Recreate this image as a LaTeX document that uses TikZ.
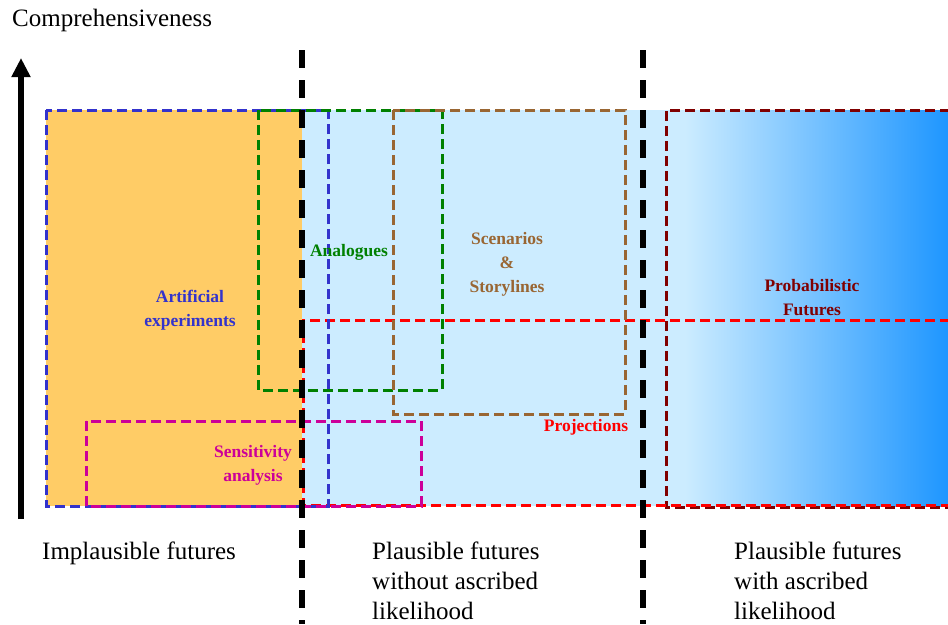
\documentclass[tikz,border=0pt]{standalone}
\usepackage{fontspec}
\setmainfont{Liberation Serif}
\usetikzlibrary{arrows.meta}
\definecolor{orangefill}{RGB}{255,204,102}
\definecolor{lightbluefill}{RGB}{204,236,255}
\definecolor{deepbluefill}{RGB}{30,150,255}
\definecolor{boxblue}{RGB}{51,51,204}
\definecolor{boxgreen}{RGB}{0,128,0}
\definecolor{boxbrown}{RGB}{153,102,51}
\definecolor{boxmagenta}{RGB}{204,0,153}
\definecolor{boxred}{RGB}{255,0,0}
\definecolor{boxdarkred}{RGB}{128,0,0}
\begin{document}
\begin{tikzpicture}[x=1pt,y=-1pt,
  region/.style={line width=3pt, dash pattern=on 10pt off 5pt},
  divider/.style={line width=5.5pt, dash pattern=on 18pt off 12pt},
  lbl/.style={font=\bfseries\fontsize{17.5}{24}\selectfont, align=center, inner sep=0pt},
  axislbl/.style={font=\fontsize{25}{30}\selectfont, align=left, inner sep=0pt, anchor=north west}]
\useasboundingbox (0,0) rectangle (948,624);
% backgrounds
\fill[orangefill] (46,110) rectangle (302,506);
\fill[lightbluefill] (302,110) rectangle (685,506);
\shade[left color=lightbluefill, right color=deepbluefill] (685,110) rectangle (948,506);
% region boxes
\draw[region, boxdarkred] (950,110) -- (666,110) -- (666,507) -- (950,507);
\draw[region, boxred] (950,320) -- (303,320) -- (303,505) -- (950,505);
\draw[region, boxblue] (46,110) rectangle (328,506);
\draw[region, boxgreen] (258,110) rectangle (442,390);
\draw[region, boxbrown] (393,110) rectangle (625,414);
\draw[region, boxmagenta] (86,421) rectangle (421,506);
% labels
\node[lbl, text=boxblue] (art) at (190,310) {Artificial\\experiments};
\node[lbl, text=boxgreen] (ana) at (349,252) {Analogues};
\node[lbl, text=boxbrown] (scen) at (507,264) {Scenarios\\\&\\Storylines};
\node[lbl, text=boxdarkred] (prob) at (812,298) {Probabilistic\\Futures};
\node[lbl, text=boxred] (proj) at (586,427) {Projections};
\node[lbl, text=boxmagenta] (sens) at (253,465) {Sensitivity\\analysis};
% dividers
\coordinate (d1top) at (302,50);
\coordinate (d1bot) at (302,624);
\coordinate (d2top) at (643,50);
\coordinate (d2bot) at (643,624);
\draw[divider] (d1top) -- (d1bot);
\draw[divider] (d2top) -- (d2bot);
% axis
\coordinate (abot) at (21,519);
\coordinate (atop) at (21,58);
\draw[line width=6pt, -{Triangle[width=18pt,length=19pt]}] (abot) -- (atop);
\node[font=\fontsize{25}{30}\selectfont, inner sep=0pt, anchor=west] (comp) at (12,20) {Comprehensiveness};
% bottom labels
\node[axislbl] (impl) at (42,542) {Implausible futures};
\node[axislbl] (plaus) at (372,542) {Plausible futures\\without ascribed\\likelihood};
\node[axislbl] (plausl) at (734,542) {Plausible futures\\with ascribed\\likelihood};
\end{tikzpicture}
\end{document}
